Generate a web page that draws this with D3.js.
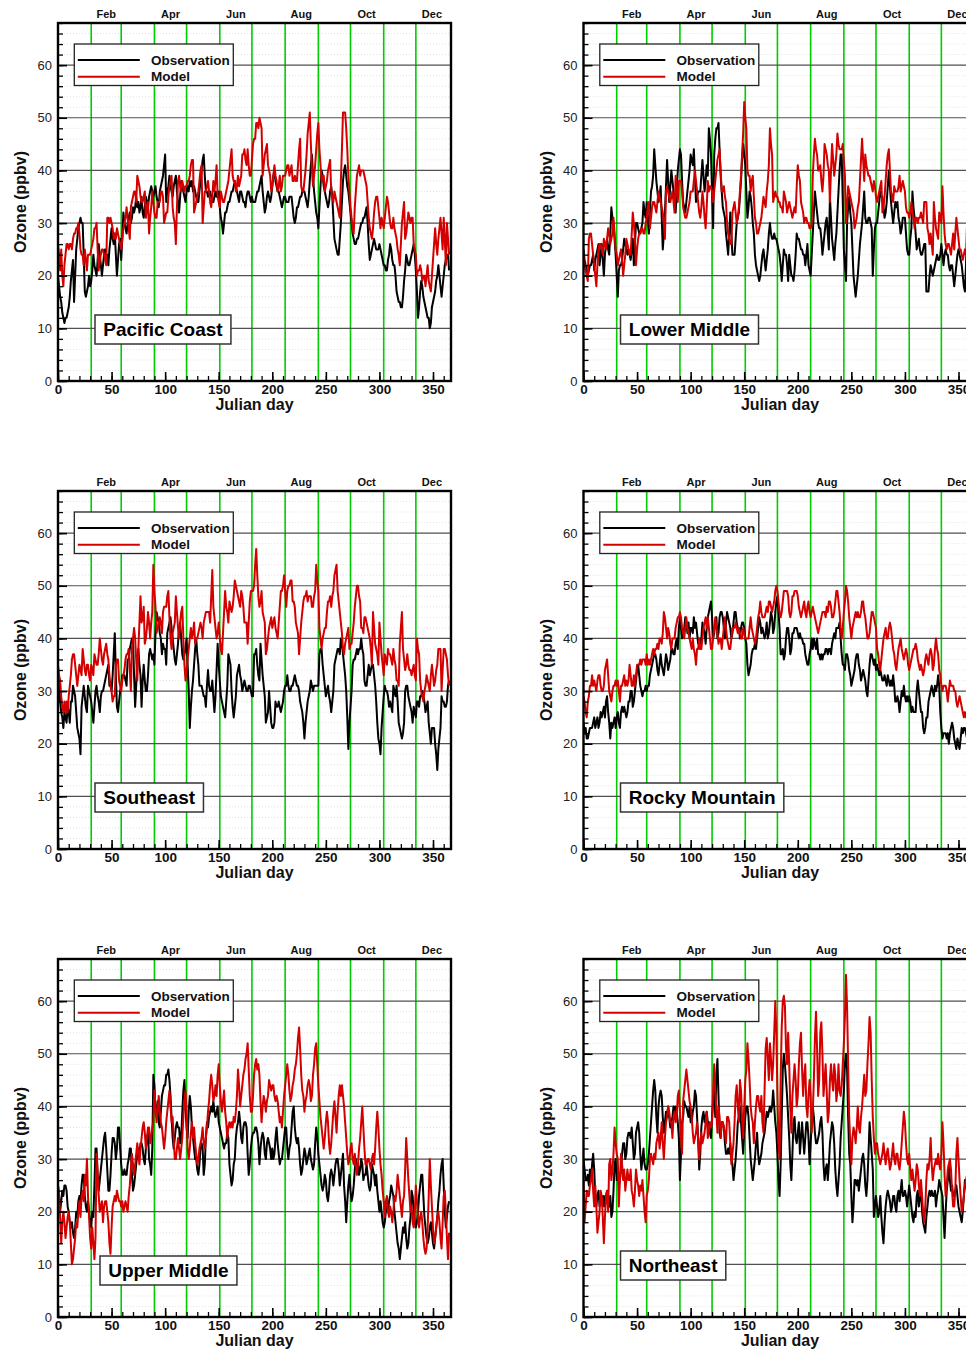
<!DOCTYPE html>
<html><head><meta charset="utf-8">
<script src="https://cdn.jsdelivr.net/npm/d3@7"></script>
<style>body{margin:0;background:#fff;overflow:hidden} svg{display:block} text{font-family:"Liberation Sans",Arial,Helvetica,sans-serif}</style>
</head><body><svg id="c" width="966" height="1351"></svg>
<script>
const regions = ["Pacific Coast","Lower Middle","Southeast","Rocky Mountain","Upper Middle","Northeast"];
const legendLabels = ["Observation","Model"];
const monthStarts = [31,59,90,120,151,181,212,243,273,304,334];
const monthLabels = ["Feb","Apr","Jun","Aug","Oct","Dec"];
const monthLabelDays = [45,105,166,227,288,349];
const xTicks = [0,50,100,150,200,250,300,350];
const yTicks = [0,10,20,30,40,50,60];

const pacificObs = [
20,18,16,15,13,12,11,12,12,13,14,16,19,21,23,15,20,25,27,29,
30,31,30,30,24,17,16,17,18,20,18,19,21,24,22,21,20,23,26,24,
22,20,22,24,25,23,24,22,25,27,29,27,26,28,24,20,23,26,27,23,
27,32,30,29,28,30,31,32,30,31,33,32,33,35,33,34,32,33,35,32,
31,33,35,34,33,35,36,37,36,35,36,37,35,34,33,36,37,38,39,41,
43,34,36,37,39,37,36,35,37,38,39,36,34,32,35,38,37,36,35,34,
36,37,36,38,37,38,36,37,36,35,34,34,36,38,40,42,43,39,36,36,
35,36,36,35,34,34,35,36,35,36,36,33,31,30,28,30,32,32,33,34,
34,35,36,36,37,38,37,36,35,34,36,36,35,34,34,33,35,36,36,35,
34,35,34,34,34,35,36,36,37,38,39,36,34,32,33,35,36,35,34,35,
37,39,40,38,37,36,36,35,34,33,34,35,35,34,34,34,35,35,35,33,
31,30,31,33,33,34,35,35,36,36,36,35,34,33,35,38,41,43,39,36,
34,32,31,29,33,37,40,39,37,36,35,34,33,34,36,37,35,31,27,26,
25,24,24,27,30,34,38,40,41,39,37,36,34,32,30,28,27,26,26,27,
27,28,29,30,30,31,31,32,33,30,26,23,24,25,26,27,26,25,25,25,
26,25,24,23,22,22,21,21,23,24,26,25,23,22,22,20,17,16,15,15,
14,14,16,19,21,24,23,22,22,23,24,25,26,24,21,17,12,14,17,19,
18,16,15,14,13,12,12,10,11,14,15,16,17,19,20,22,20,18,16,18,
20,22,23,24,24,21];
const pacificModel = [
26,24,21,25,20,18,22,24,26,26,25,26,26,25,27,28,28,29,29,30,
28,25,24,24,22,25,23,21,24,24,24,25,26,27,29,29,30,25,21,23,
24,25,25,24,23,22,31,31,30,31,30,29,27,28,27,29,28,27,26,25,
27,29,30,31,33,31,29,27,33,34,35,36,36,34,39,38,37,35,34,34,
35,36,31,33,34,28,31,33,36,34,32,31,31,34,34,34,36,36,35,30,
31,32,32,35,37,38,39,33,31,30,26,33,38,39,37,36,38,37,36,37,
37,38,38,39,41,42,42,32,33,34,35,36,38,40,41,30,33,36,36,37,
38,36,34,33,35,38,36,38,41,35,34,33,36,35,34,34,35,36,37,38,
40,42,44,39,38,38,36,37,39,37,38,39,43,43,44,42,41,44,41,39,
39,42,45,46,46,49,49,48,50,49,48,39,41,43,44,45,41,40,39,36,
37,39,41,39,38,36,37,39,36,37,39,39,39,40,41,41,39,40,41,38,
38,39,38,38,41,44,46,37,36,36,38,40,43,47,49,51,45,40,37,39,
41,44,47,49,44,41,38,39,39,36,37,38,40,41,42,36,35,34,36,35,
34,33,32,31,38,44,51,51,51,48,44,39,36,33,31,29,28,33,36,39,
40,41,39,40,40,40,39,38,37,34,31,29,28,27,29,32,34,35,35,33,
31,29,31,30,29,31,33,35,34,32,30,29,29,31,29,28,27,25,24,22,
26,30,32,34,27,28,30,32,31,30,31,31,26,25,24,20,21,21,22,21,
19,20,20,18,20,22,19,18,17,20,23,26,29,26,24,27,29,31,28,25,
31,27,22,30,27,24];

const lowerMiddleObs = [
25,23,22,21,20,21,22,22,23,24,21,23,24,25,26,22,24,26,23,20,
24,26,27,25,24,28,33,31,30,27,24,20,16,21,22,22,23,25,27,26,
25,24,25,24,23,25,27,22,26,30,30,29,28,28,29,30,34,32,31,34,
31,28,32,36,37,39,44,41,38,36,34,35,37,31,25,28,32,37,42,38,
34,37,40,38,36,34,32,36,40,42,44,43,38,34,33,32,34,36,38,40,
43,42,41,44,39,34,35,36,36,36,39,42,39,36,38,41,39,48,46,43,
36,29,43,46,48,48,49,44,39,36,33,32,31,28,26,24,28,32,28,24,
24,24,27,30,31,32,35,38,42,45,43,41,36,31,33,36,35,33,30,28,
24,22,21,20,19,20,22,24,25,23,21,23,25,28,30,28,27,27,28,27,
27,26,25,24,22,19,22,25,24,24,22,19,24,22,20,20,19,21,24,28,
27,27,26,25,25,24,24,22,24,26,22,21,20,24,28,32,36,34,32,30,
29,29,27,24,26,28,30,31,28,25,35,31,27,25,23,26,28,32,36,40,
43,43,34,25,22,19,30,33,35,32,30,25,20,18,16,18,20,23,26,28,
30,33,36,31,30,30,31,31,30,29,20,25,29,30,30,32,34,36,35,35,
33,31,32,34,37,40,37,34,32,30,32,34,33,34,31,30,28,29,31,31,
31,28,25,24,24,27,29,36,33,31,28,25,26,27,25,24,24,25,26,26,
17,17,17,20,22,21,20,21,22,23,24,23,23,24,26,24,22,24,25,24,
24,22,21,22,22,20,18,20,22,24,25,24,23,22,20,18,17,22,30,27,
24,22,20,19,21,22];
const lowerMiddleModel = [
24,22,21,20,19,27,28,28,26,24,22,20,18,22,25,26,26,25,24,27,
26,25,27,29,28,26,27,28,31,28,25,24,22,23,24,25,23,20,22,24,
27,26,25,24,24,28,32,30,27,22,25,27,28,28,29,29,28,28,30,31,
33,34,29,31,33,34,34,33,32,34,36,35,34,33,32,30,27,36,37,36,
35,34,35,36,34,32,39,36,34,38,38,38,36,33,32,31,31,32,33,34,
36,36,36,38,40,38,36,34,32,31,33,36,34,31,29,33,38,36,37,37,
36,34,36,38,40,42,43,44,40,36,36,37,35,34,30,28,27,26,26,32,
33,34,32,30,31,33,36,39,43,47,53,50,48,40,39,39,36,38,39,35,
31,30,28,28,29,30,31,33,35,34,33,36,38,41,48,45,43,34,35,36,
35,35,34,34,33,33,32,36,35,34,32,33,34,33,32,31,32,33,32,37,
41,39,38,34,33,32,30,31,31,30,30,29,29,30,39,43,46,44,43,40,
40,41,38,36,39,45,44,43,41,40,34,40,45,42,39,41,43,47,45,44,
44,44,45,42,39,30,33,37,36,35,34,33,32,29,30,31,33,34,38,42,
46,42,38,43,41,40,39,39,38,37,36,38,37,35,34,35,36,37,38,32,
33,35,38,41,43,44,40,36,35,34,37,36,36,36,37,39,36,37,38,37,
36,33,32,32,31,32,34,32,31,29,31,31,30,31,31,32,31,30,34,34,
34,29,28,26,28,26,24,34,31,29,28,27,32,31,30,37,32,28,26,25,
26,26,25,24,26,28,25,28,31,29,27,25,25,24,23,24,25,24,23,22,
21,20,20,21,22,21];

const southeastObs = [
33,31,28,26,25,23,26,25,24,27,26,24,28,28,31,30,29,26,23,22,
21,18,27,29,31,29,27,26,31,30,29,28,26,24,27,30,31,29,28,26,
29,30,30,31,32,33,34,35,31,31,30,33,37,41,33,27,26,28,30,31,
33,33,33,32,31,36,36,38,39,40,40,33,27,31,36,38,35,33,27,32,
35,32,30,30,33,37,38,37,36,37,35,41,45,44,43,41,40,37,39,38,
38,35,41,42,43,44,42,40,38,36,35,37,39,42,43,40,37,36,37,38,
40,35,30,23,27,30,32,35,38,40,37,35,31,31,31,30,29,29,27,31,
34,31,30,30,32,29,26,29,34,39,35,32,29,28,27,26,25,28,31,37,
36,35,30,27,25,27,29,33,34,35,33,32,30,31,32,31,30,30,31,31,
30,29,29,37,37,38,35,33,32,39,36,33,31,29,24,25,26,30,27,24,
23,23,24,28,27,27,28,27,26,27,28,30,31,31,33,31,30,30,31,31,
32,33,32,31,31,30,28,27,26,24,21,24,26,28,29,30,32,31,30,31,
31,31,31,31,37,38,38,35,33,31,29,30,31,29,28,26,28,30,35,36,
37,38,38,37,40,39,37,35,33,30,25,19,24,27,30,35,36,36,37,38,
37,38,38,40,38,37,32,31,31,33,35,33,34,35,35,33,31,28,24,21,
20,18,23,26,29,31,30,30,29,27,28,27,26,31,30,29,31,28,24,23,
22,21,22,24,30,31,31,29,28,27,26,24,27,26,25,28,28,27,29,29,
30,29,28,26,27,28,24,22,20,23,23,23,20,18,15,19,21,23,29,28,
28,27,27,28,31,32];
const southeastModel = [
35,33,32,29,27,26,28,26,28,26,29,31,33,36,37,37,35,33,31,33,
35,34,33,38,36,34,33,35,35,33,32,35,34,33,37,36,35,35,37,40,
38,36,35,37,38,39,37,36,33,31,30,28,29,29,35,36,36,32,31,30,
32,33,34,36,37,37,38,34,30,38,40,42,40,36,32,38,43,48,43,44,
46,39,40,42,45,43,40,43,45,54,49,46,41,42,43,44,43,41,45,46,
46,46,48,49,44,40,38,41,42,43,48,45,42,40,43,45,46,40,35,32,
34,36,38,40,42,40,41,43,39,40,40,41,42,43,42,40,43,44,45,45,
45,45,43,48,53,46,44,42,40,41,43,40,38,37,41,45,49,46,45,43,
47,46,45,46,48,51,50,49,48,47,46,49,48,46,43,43,43,39,43,47,
49,49,49,50,54,57,52,48,46,47,49,45,44,43,37,38,40,42,43,44,
42,43,44,42,41,40,43,46,49,49,50,52,49,46,49,50,50,51,51,47,
47,46,43,42,41,37,40,43,45,47,48,48,49,47,48,48,48,46,46,48,
49,54,51,49,42,40,38,40,41,42,42,45,47,47,48,46,48,49,52,53,
54,49,47,45,43,41,38,37,39,40,41,42,38,39,39,41,43,46,48,50,
50,48,47,42,42,41,44,44,43,42,41,40,38,35,45,42,39,38,37,35,
43,40,37,35,33,37,36,35,38,37,37,36,35,38,36,35,32,32,31,39,
42,45,38,36,34,35,37,35,34,34,33,34,35,33,32,40,38,37,32,30,
29,28,30,31,33,32,31,30,33,35,33,31,32,34,35,38,38,38,30,34,
38,38,37,36,33,31];

const rockyObs = [
24,22,23,21,21,22,23,23,23,24,25,23,24,25,23,24,26,25,26,27,25,28,29,26,24,21,24,23,
24,
25,23,25,26,24,23,26,27,26,27,26,25,26,28,28,30,30,27,28,30,32,34,35,33,31,30,29,
30,
30,31,30,31,31,33,34,35,36,37,37,36,34,33,35,37,35,34,33,35,37,36,34,35,36,38,38,
37,
37,39,40,38,42,44,42,40,41,42,44,43,41,43,40,42,42,41,44,42,43,41,39,40,38,40,43,
42,
41,39,42,44,45,46,47,44,40,41,43,44,40,41,44,45,45,44,42,40,43,45,44,43,42,40,41,
43,
45,45,43,42,42,40,42,43,43,42,40,39,35,33,34,35,37,38,38,39,38,40,42,44,43,41,42,
41,
40,41,43,40,41,43,45,44,41,42,45,47,48,45,42,37,37,38,36,37,40,42,42,40,37,38,41,
41,
42,42,42,41,40,41,40,40,39,39,37,36,35,35,37,38,40,38,40,39,38,40,37,37,36,37,36,
37,
37,38,38,37,38,38,37,39,40,41,40,42,42,42,43,40,37,35,35,34,37,37,36,34,33,31,32,
33,
34,36,37,37,35,34,32,33,34,33,32,30,29,32,35,37,37,36,35,36,34,35,34,33,34,33,32,
32,
33,32,31,33,32,31,32,31,33,31,28,28,29,28,26,28,30,29,31,29,28,29,28,29,28,26,27,
26,
26,26,30,32,30,28,26,26,23,22,23,25,25,28,29,30,31,30,29,31,30,31,33,31,26,23,21,
22,
22,22,21,22,20,22,23,24,23,21,20,19,21,20,19,21,23,22,23,23,
22,21,22,23,22,21,22,23,22];
const rockyModel = [
29,28,26,25,28,29,31,31,33,31,32,31,30,32,33,33,31,30,30,31,34,35,36,33,30,29,28,30,
31,
31,32,31,32,30,28,31,31,32,33,31,32,31,32,35,33,31,31,33,31,33,35,35,35,36,35,36,
36,
36,35,37,35,36,35,36,37,38,37,38,38,39,38,40,40,39,41,45,44,42,40,42,41,39,38,40,
40,
40,42,43,44,44,45,44,42,41,40,42,44,42,41,40,39,38,40,38,37,35,38,38,40,38,38,40,
42,
43,44,42,44,42,40,38,38,40,42,44,42,41,39,40,40,38,40,42,44,42,40,39,38,38,40,42,
42,
42,43,42,41,42,41,40,40,42,41,40,40,40,40,42,44,42,41,40,39,40,42,44,45,47,45,44,
44,
44,45,46,45,47,47,46,45,46,47,49,50,49,47,45,44,45,47,49,49,49,49,48,45,44,45,48,
48,
49,49,49,48,46,45,44,45,46,47,45,44,46,47,45,44,45,46,45,44,43,42,41,42,43,44,45,
45,
45,44,46,45,47,47,46,44,44,45,47,49,49,47,45,42,40,42,45,47,50,49,47,44,42,40,42,
43,
44,45,44,45,44,44,45,47,47,45,44,42,40,40,41,43,45,45,44,43,42,38,37,35,34,36,38,
40,
41,42,40,40,42,43,42,40,38,37,35,34,36,38,39,40,38,37,36,37,38,37,35,34,35,36,37,
38,
38,39,38,36,35,34,35,34,33,34,36,37,36,35,37,38,37,34,35,38,40,38,37,34,33,31,30,
31,
31,31,30,28,30,32,31,31,31,30,30,28,27,28,29,28,27,26,25,26,
25,26,27,26,25,24,25,26,25];

const upperMiddleObs = [
25,23,20,22,24,23,25,25,24,21,20,18,17,18,16,15,17,20,19,22,23,22,25,27,27,23,
21,
20,22,20,18,17,20,19,25,32,32,27,24,26,28,30,32,34,35,32,28,24,24,27,31,34,
34,
33,30,32,36,36,32,29,27,27,28,27,27,29,30,32,32,27,24,25,27,29,31,32,31,33,
33,
32,30,29,32,34,35,30,29,27,32,46,44,39,38,41,37,36,39,42,43,44,44,46,46,47,
45,
42,38,34,32,34,36,37,36,36,33,34,39,43,45,40,36,34,39,42,40,36,34,32,30,30,
28,
27,29,32,33,32,27,29,34,37,36,38,39,40,39,41,39,38,39,40,37,36,35,34,33,32,
33,
33,35,34,29,27,25,26,29,30,34,36,37,39,37,34,33,36,37,37,36,31,27,29,32,34,
35,
35,36,36,35,33,29,32,34,35,34,31,30,33,34,33,32,30,32,30,31,34,36,33,31,29,
30,
30,32,34,36,36,32,30,32,33,36,39,40,36,34,33,34,32,29,27,28,30,32,31,29,30,
31,
32,30,29,28,29,33,36,34,31,29,27,25,24,25,27,26,23,22,24,27,28,27,25,27,29,
30,
30,28,25,27,29,31,25,22,18,22,25,27,24,22,23,25,28,30,28,29,27,28,30,29,26,
27,
27,29,27,25,24,25,29,28,27,25,27,24,22,20,22,20,18,17,18,20,22,20,22,23,25,
24,
23,20,18,16,14,13,11,13,15,17,16,18,15,13,14,17,19,24,23,20,18,17,18,20,23,
25,
27,27,23,19,17,15,14,15,17,18,16,14,13,15,17,19,22,24,27,29,30,25,20,17,19,21,
22];
const upperMiddleModel = [
25,23,19,14,18,20,18,15,17,19,20,18,14,10,11,13,15,18,17,20,
22,19,23,24,22,27,25,30,23,19,15,13,17,14,11,15,31,27,23,20,
21,22,18,21,22,22,20,18,14,12,17,21,22,23,22,24,23,22,22,21,
22,20,21,22,21,20,23,25,28,31,29,27,29,31,33,31,29,32,34,36,
37,35,32,34,36,36,33,34,36,37,43,40,37,39,42,39,37,36,34,32,
34,37,39,41,43,40,37,38,34,30,30,32,34,32,30,32,34,38,41,43,
39,32,30,32,35,37,34,36,33,31,29,30,32,33,34,36,33,32,34,36,
39,41,44,46,44,41,42,44,42,46,48,44,41,39,41,43,39,37,34,36,
37,36,37,36,38,37,39,42,47,44,40,42,44,46,47,49,50,52,47,42,
39,39,42,46,48,49,47,48,46,41,37,40,42,41,39,41,42,45,44,43,
44,44,42,41,42,41,39,37,38,36,39,42,44,46,48,46,43,41,42,44,
45,47,48,50,53,55,51,46,43,42,39,41,42,44,45,44,41,42,46,48,
51,52,48,44,41,38,36,34,32,34,37,39,37,33,31,33,36,39,41,38,
35,39,42,44,42,44,42,40,37,34,31,29,30,32,33,30,29,31,29,27,
29,32,34,37,40,36,32,29,29,30,30,29,28,30,31,29,32,36,39,36,
32,29,27,24,22,19,22,23,20,19,21,20,18,20,23,22,24,27,25,23,
21,19,22,23,28,34,30,26,23,20,21,18,17,20,25,22,19,17,19,20,
18,15,13,12,13,17,23,30,25,21,17,14,15,17,19,20,18,15,13,18,
23,24,20,15,11,16];

const northeastObs = [
30,28,26,26,27,25,28,26,29,31,28,23,21,23,24,21,22,23,21,23,
21,23,24,21,21,23,19,20,24,29,30,26,28,25,26,28,31,33,33,30,
31,34,35,35,34,36,33,30,31,35,36,37,35,31,28,30,32,29,28,28,
29,31,34,37,40,43,45,43,38,35,40,42,43,42,38,35,37,39,38,40,
38,36,37,38,40,38,40,39,37,34,26,31,37,38,41,40,40,39,38,40,
37,37,39,40,43,42,38,34,28,31,36,38,39,37,38,39,37,37,35,34,
38,41,43,38,46,49,42,35,34,37,37,36,33,31,31,32,31,33,30,29,
26,28,30,33,37,38,40,37,34,31,35,38,40,40,38,34,30,28,26,28,
30,33,35,31,29,30,31,33,34,35,37,39,38,39,40,39,40,43,40,37,
35,31,26,23,29,38,47,50,48,45,42,38,34,29,26,31,37,38,34,33,
35,37,31,34,37,34,31,34,37,37,34,29,33,37,40,38,35,33,33,34,
35,37,38,35,29,26,28,29,26,29,33,35,37,36,33,28,25,23,26,29,
34,37,40,43,48,50,47,38,31,29,23,18,21,26,26,25,26,24,26,28,
30,31,29,25,23,26,31,37,34,31,28,19,21,23,21,19,20,23,19,16,
14,18,21,23,24,23,22,20,21,23,23,21,20,23,24,22,24,26,23,23,
24,23,21,23,25,23,21,19,18,20,19,23,24,21,23,24,20,18,17,16,
19,21,23,24,23,24,23,23,24,21,23,24,26,25,24,23,19,15,20,24,
26,29,26,24,25,23,23,24,25,23,21,20,19,18,20,23,26,25,24,23,
22,24,25,23,22,24];
const northeastModel = [
26,18,21,24,23,23,25,26,28,24,21,25,21,16,18,20,24,23,19,14,
19,23,24,20,29,30,26,28,31,36,33,31,30,21,26,31,29,26,28,24,
26,28,26,26,28,24,23,21,24,28,26,25,23,25,24,26,23,20,18,23,
24,26,30,31,30,29,31,30,33,34,35,32,34,37,33,30,34,37,38,40,
39,37,37,34,38,39,37,38,42,43,39,34,31,41,43,45,47,45,43,41,
40,38,35,33,34,35,37,34,30,33,35,33,34,35,37,39,34,35,37,36,
37,43,48,43,39,35,40,38,34,37,37,36,35,33,38,38,37,33,29,31,
33,37,42,44,40,37,45,43,38,34,40,45,47,52,49,45,40,38,37,33,
37,40,42,42,40,39,42,37,35,43,51,53,49,45,52,49,45,48,54,60,
54,42,33,30,45,55,60,61,59,51,48,54,48,40,35,42,45,48,45,40,
42,48,52,54,47,42,46,48,40,38,42,45,42,35,39,45,53,58,51,42,
45,54,56,50,42,45,48,43,37,39,45,48,45,43,48,46,41,43,48,43,
42,44,48,52,57,65,59,48,38,33,29,34,36,35,33,36,40,36,35,38,
40,43,46,42,43,48,52,57,54,45,38,34,31,33,33,31,30,29,30,31,
33,31,29,31,32,30,28,29,31,33,30,29,31,31,29,28,30,33,36,39,
37,33,30,29,31,28,26,28,26,24,26,29,28,25,23,26,23,20,18,21,
26,29,28,30,34,29,26,28,29,30,29,31,29,28,31,37,33,27,23,25,
28,29,30,28,24,21,21,24,31,34,30,26,23,20,21,23,25,26,27,25,
24,26,28,26,25,27];

const W = 393, H = 358, XMAX = 366.8, YMAX = 68;
const colX = [58, 583.5], rowY = [23, 491, 959];
const panels = [
  {name: regions[0], obs: pacificObs, model: pacificModel, col: 0, row: 0, lx: 37, ly: 292},
  {name: regions[1], obs: lowerMiddleObs, model: lowerMiddleModel, col: 1, row: 0, lx: 37, ly: 292},
  {name: regions[2], obs: southeastObs, model: southeastModel, col: 0, row: 1, lx: 37, ly: 292},
  {name: regions[3], obs: rockyObs, model: rockyModel, col: 1, row: 1, lx: 37, ly: 292},
  {name: regions[4], obs: upperMiddleObs, model: upperMiddleModel, col: 0, row: 2, lx: 42, ly: 297},
  {name: regions[5], obs: northeastObs, model: northeastModel, col: 1, row: 2, lx: 37, ly: 292}
];
const FONT = '"Liberation Sans",Arial,Helvetica,sans-serif';
const svg = d3.select("#c");
const defs = svg.append("defs");
defs.append("clipPath").attr("id","plotclip").append("rect").attr("x",0).attr("y",0).attr("width",W).attr("height",H);

const x = d3.scaleLinear().domain([0, XMAX]).range([0, W]);
const y = d3.scaleLinear().domain([0, YMAX]).range([H, 0]);
const line = d3.line().x((d, i) => x(i)).y(d => y(d));

panels.forEach(p => {
  const g = svg.append("g").attr("transform", `translate(${colX[p.col]},${rowY[p.row]})`);
  // minor dotted horizontal grid
  g.append("g").selectAll("line").data(d3.range(2, YMAX, 2).filter(v => v % 10 !== 0)).join("line")
    .attr("x1", 0).attr("x2", W).attr("y1", d => y(d)).attr("y2", d => y(d))
    .attr("stroke", "#d6d6d6").attr("stroke-width", 0.7).attr("stroke-dasharray", "1,2");
  // month boundary lines
  g.append("g").selectAll("line").data(monthStarts).join("line")
    .attr("x1", d => x(d)).attr("x2", d => x(d)).attr("y1", 0).attr("y2", H)
    .attr("stroke", "#00cc00").attr("stroke-width", 1.6);
  // major horizontal grid
  g.append("g").selectAll("line").data(yTicks.filter(v => v > 0)).join("line")
    .attr("x1", 0).attr("x2", W).attr("y1", d => y(d)).attr("y2", d => y(d))
    .attr("stroke", "#505050").attr("stroke-width", 1.2);
  // data
  const dg = g.append("g").attr("clip-path", "url(#plotclip)");
  dg.append("path").datum(p.obs).attr("d", line).attr("fill", "none")
    .attr("stroke", "#000").attr("stroke-width", 2).attr("stroke-linejoin", "round");
  dg.append("path").datum(p.model).attr("d", line).attr("fill", "none")
    .attr("stroke", "#d40000").attr("stroke-width", 2).attr("stroke-linejoin", "round");
  // frame
  g.append("rect").attr("width", W).attr("height", H).attr("fill", "none")
    .attr("stroke", "#000").attr("stroke-width", 2.4);
  // y axis
  const ya = g.append("g").attr("font-family", FONT)
    .call(d3.axisLeft(y).tickValues(yTicks).tickSize(-9).tickPadding(6));
  ya.select(".domain").remove();
  ya.selectAll("line").attr("stroke", "#000").attr("stroke-width", 1.6);
  ya.selectAll("text").attr("font-size", 13).attr("fill", "#222");
  const ym = g.append("g").call(d3.axisLeft(y).tickValues(d3.range(0, YMAX + 1, 2)).tickSize(-5).tickFormat(""));
  ym.select(".domain").remove();
  ym.selectAll("line").attr("stroke", "#000").attr("stroke-width", 1.3);
  // x axis
  const xa = g.append("g").attr("transform", `translate(0,${H})`).attr("font-family", FONT)
    .call(d3.axisBottom(x).tickValues(xTicks).tickSize(-9).tickPadding(4));
  xa.select(".domain").remove();
  xa.selectAll("line").attr("stroke", "#000").attr("stroke-width", 1.6);
  xa.selectAll("text").attr("font-size", 13.5).attr("font-weight", "bold").attr("fill", "#111")
    .attr("y", 12.5).attr("dy", 0);
  const xm = g.append("g").attr("transform", `translate(0,${H})`)
    .call(d3.axisBottom(x).tickValues(d3.range(0, 361, 10)).tickSize(-5).tickFormat(""));
  xm.select(".domain").remove();
  xm.selectAll("line").attr("stroke", "#000").attr("stroke-width", 1.3);
  // month labels on top
  g.append("g").selectAll("text").data(monthLabels).join("text")
    .attr("x", (d, i) => x(monthLabelDays[i])).attr("y", -5).attr("text-anchor", "middle")
    .attr("font-size", 11).attr("font-weight", "bold").attr("fill", "#111").text(d => d);
  // axis titles
  g.append("text").attr("x", W / 2).attr("y", H + 28.5).attr("text-anchor", "middle")
    .attr("font-size", 16).attr("font-weight", "bold").attr("fill", "#111").text("Julian day");
  g.append("text").attr("transform", `translate(-32,${H / 2}) rotate(-90)`).attr("text-anchor", "middle")
    .attr("font-size", 16).attr("font-weight", "bold").attr("fill", "#111").text("Ozone (ppbv)");
  // legend
  const lg = g.append("g").attr("transform", "translate(16.3,21)");
  lg.append("rect").attr("width", 159).attr("height", 41.5).attr("fill", "#fff")
    .attr("stroke", "#222").attr("stroke-width", 1.3);
  const lcolors = ["#000", "#d40000"];
  legendLabels.forEach((t, i) => {
    lg.append("line").attr("x1", 3.5).attr("x2", 65.5).attr("y1", 16 + i * 16.7).attr("y2", 16 + i * 16.7)
      .attr("stroke", lcolors[i]).attr("stroke-width", 2);
    lg.append("text").attr("x", 76.7).attr("y", 20.5 + i * 16.7).attr("font-size", 13.5)
      .attr("font-weight", "bold").attr("fill", "#111").text(t);
  });
  // region label
  const rg = g.append("g").attr("transform", `translate(${p.lx},${p.ly})`);
  const rr = rg.append("rect").attr("height", 29).attr("fill", "#fff").attr("stroke", "#333").attr("stroke-width", 1.5);
  const rt = rg.append("text").attr("x", 8.3).attr("y", 21).attr("font-size", 19).attr("font-weight", "bold")
    .attr("fill", "#000").text(p.name);
  const tw = rt.node().getComputedTextLength();
  rr.attr("width", tw + 16.6);
});
</script>
</body></html>
